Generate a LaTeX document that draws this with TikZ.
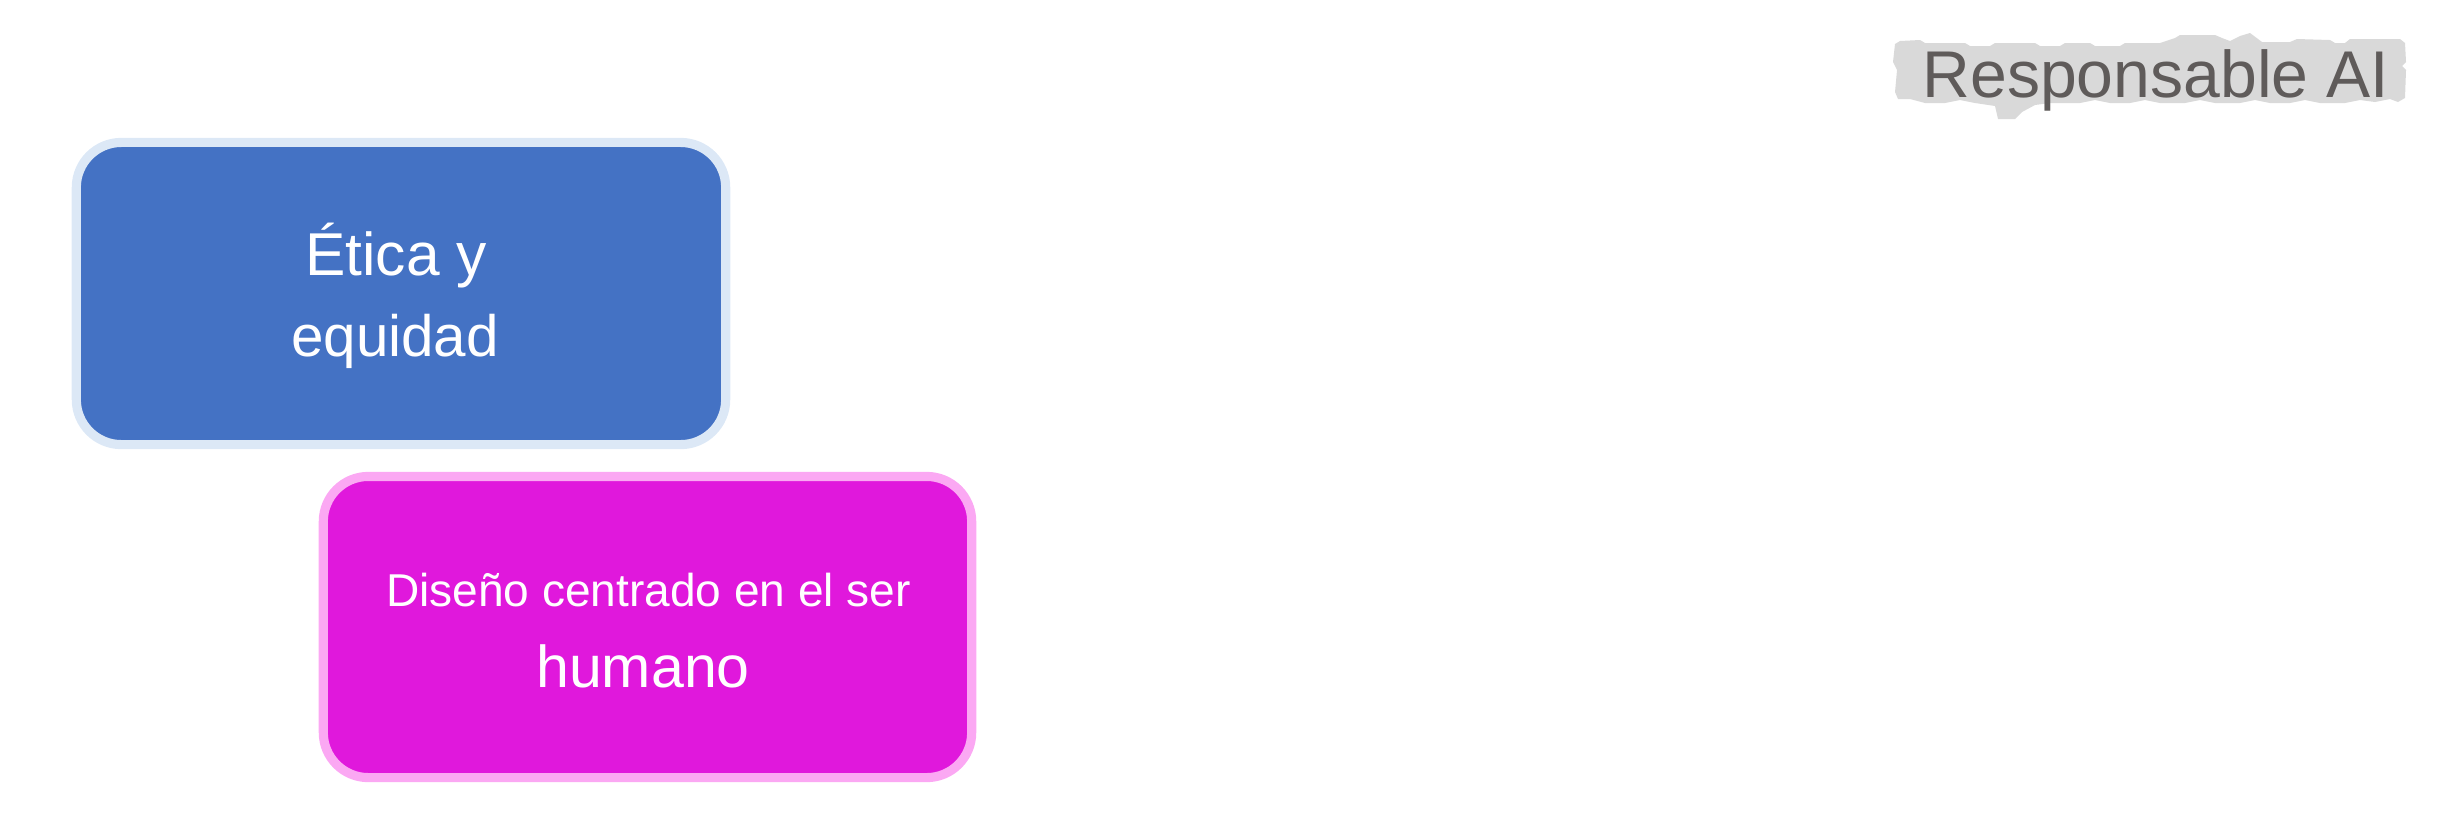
\documentclass[tikz,border=0pt]{standalone}
\usepackage{fontspec}
\setmainfont{Liberation Sans}
\definecolor{bluefill}{HTML}{4472C4}
\definecolor{blueedge}{HTML}{DCE8F6}
\definecolor{magfill}{HTML}{E018DC}
\definecolor{magedge}{HTML}{FBA8F3}
\definecolor{titlegray}{HTML}{5F5B5A}
\definecolor{hlgray}{HTML}{D9D9D9}
\tikzset{
  card/.style={rectangle, rounded corners=0.45cm, line width=2.6pt, inner sep=0pt},
  cardtext/.style={anchor=base, text=white, inner sep=0pt},
}
\begin{document}
\begin{tikzpicture}[x=0.01cm,y=-0.01cm]
\useasboundingbox (0,0) rectangle (2451,814);
% blue card
\node[card, draw=blueedge, fill=bluefill, minimum width=6.49cm, minimum height=3.02cm] (eticabox) at (401,293.5) {};
\node[cardtext, font=\fontsize{17.2pt}{20pt}\selectfont] (etica1) at (396,275) {Ética y};
\node[cardtext, font=\fontsize{16.6pt}{20pt}\selectfont] (etica2) at (395,356) {equidad};
% magenta card
\node[card, draw=magedge, fill=magfill, minimum width=6.48cm, minimum height=3.01cm] (disenobox) at (647.5,627) {};
\node[cardtext, font=\fontsize{13.1pt}{16pt}\selectfont] (diseno1) at (648.5,606) {Diseño centrado en el ser};
\node[cardtext, font=\fontsize{16.8pt}{20pt}\selectfont] (diseno2) at (643,687) {humano};
% title with highlight
\fill[hlgray] (1895,44) -- (1900,41) -- (1920,40) -- (1925,43) -- (1965,43) -- (1970,46) -- (1990,46) -- (1995,43) -- (2035,43) -- (2040,46) -- (2060,46) -- (2065,43) -- (2090,43) -- (2095,46) -- (2120,46) -- (2125,43) -- (2160,43) -- (2175,38) -- (2180,35) -- (2215,35) -- (2222,38) -- (2230,41) -- (2240,36) -- (2250,33) -- (2262,42) -- (2290,42) -- (2297,39) -- (2330,40) -- (2335,43) -- (2345,43) -- (2350,39) -- (2400,39) -- (2405,43) -- (2406,62) -- (2402,66) -- (2406,70) -- (2405,98) -- (2398,102) -- (2390,99) -- (2375,102) -- (2360,100) -- (2345,103) -- (2320,103) -- (2305,100) -- (2290,103) -- (2270,103) -- (2255,100) -- (2240,103) -- (2215,103) -- (2200,100) -- (2185,103) -- (2160,103) -- (2145,100) -- (2130,103) -- (2110,103) -- (2095,100) -- (2080,103) -- (2050,103) -- (2035,105) -- (2022,112) -- (2015,119) -- (1998,119) -- (1995,106) -- (1975,103) -- (1960,100) -- (1945,103) -- (1925,103) -- (1910,99) -- (1898,99) -- (1895,92) -- (1897,70) -- (1893,62) -- cycle;
\node[anchor=base, text=titlegray, inner sep=0pt, font=\fontsize{18.8pt}{22pt}\selectfont] (title) at (2156,97) {Responsable AI};
\end{tikzpicture}
\end{document}
